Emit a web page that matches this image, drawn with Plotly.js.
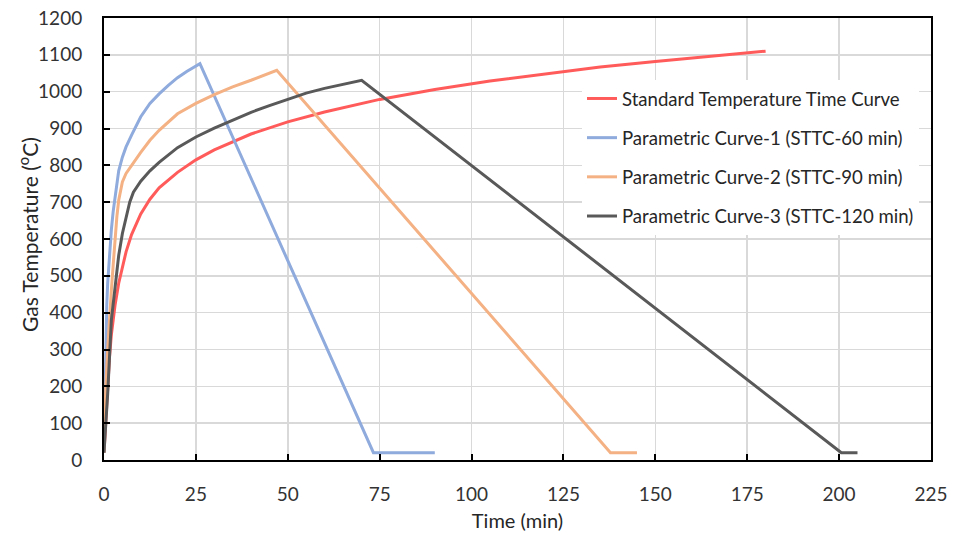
<!DOCTYPE html>
<html>
<head>
<meta charset="utf-8">
<script src="https://cdn.plot.ly/plotly-3.0.1.min.js"></script>
<style>html,body{margin:0;padding:0;background:#fff;}#chart{width:961px;height:535px;}</style>
</head>
<body>
<div id="chart"></div>
<script>
// Standard Temperature Time Curve
const timeStd = [0, 0.5, 1, 1.5, 2, 3, 4, 5, 6, 7.5, 10, 12.5, 15, 20, 25, 30, 40, 50, 60, 75, 90, 105, 120, 135, 150, 165, 180];
const tempStd = [20, 120, 210, 280, 340, 420, 480, 525, 565, 612, 668, 708, 739, 781, 815, 842, 885, 918, 945, 979, 1006, 1029, 1049, 1067, 1082, 1097, 1110];
// Parametric Curve-1 (STTC-60 min)
const time1 = [0, 0.25, 0.5, 0.75, 1, 1.5, 2, 2.5, 3, 4, 5, 6, 7.5, 10, 12.5, 15, 17.5, 20, 22.5, 26.1, 73.3, 90];
const temp1 = [20, 200, 330, 420, 480, 560, 625, 675, 715, 785, 822, 850, 882, 932, 968, 994, 1017, 1038, 1055, 1076, 20, 20];
// Parametric Curve-2 (STTC-90 min)
const time2 = [0, 0.5, 1, 1.5, 2, 2.5, 3, 3.5, 4, 4.5, 5, 6, 7.5, 10, 12.5, 15, 20, 25, 30, 35, 40, 47, 137.8, 145];
const temp2 = [20, 200, 300, 390, 460, 530, 600, 660, 705, 735, 755, 778, 800, 835, 868, 895, 940, 968, 992, 1013, 1031, 1058, 20, 20];
// Parametric Curve-3 (STTC-120 min)
const time3 = [0, 1, 2, 3, 4, 5, 6, 7, 8, 10, 12.5, 15, 20, 25, 30, 35, 40, 45, 50, 55, 60, 65, 70.1, 200.6, 205];
const temp3 = [20, 180, 380, 475, 555, 615, 660, 700, 727, 757, 785, 808, 848, 877, 901, 923, 944, 962, 980, 996, 1009, 1020, 1031, 20, 20];

const seriesNames = ["Standard Temperature Time Curve", "Parametric Curve-1 (STTC-60 min)", "Parametric Curve-2 (STTC-90 min)", "Parametric Curve-3 (STTC-120 min)"];
const xTicks = [0, 25, 50, 75, 100, 125, 150, 175, 200, 225];
const yTicks = [0, 100, 200, 300, 400, 500, 600, 700, 800, 900, 1000, 1100, 1200];

const colors = ["#FF5B5B", "#8FAADC", "#F4B183", "#595959"];
const xs = [timeStd, time1, time2, time3];
const ys = [tempStd, temp1, temp2, temp3];

const FONT = "Lato, 'Open Sans', sans-serif";
const traces = xs.map((x, i) => ({
  x: x, y: ys[i], type: "scatter", mode: "lines", name: seriesNames[i],
  legendgroup: "g" + i,
  line: {color: colors[i], width: 3}
}));

const axisCommon = {
  showline: true, linecolor: "#000", linewidth: 2, mirror: true,
  showgrid: true, gridcolor: "#D9D9D9", gridwidth: 1.5,
  zeroline: false, ticks: "inside", ticklen: 6, tickwidth: 2, tickcolor: "#000",
  tickfont: {family: FONT, size: 19, color: "#333"}, ticklabelstandoff: 16
};

const layout = {
  width: 961, height: 535,
  margin: {l: 104, r: 30, t: 18, b: 75},
  paper_bgcolor: "#fff", plot_bgcolor: "#fff",
  font: {family: FONT, color: "#262626"},
  xaxis: Object.assign({}, axisCommon, {
    range: [0, 225], tickvals: xTicks, ticktext: xTicks.map(String),
    title: {text: "Time (min)", font: {family: FONT, size: 20, color: "#262626"}, standoff: 10}
  }),
  yaxis: Object.assign({}, axisCommon, {
    range: [0, 1200], tickvals: yTicks, ticktext: yTicks.map(String)
  }),
  annotations: [{
    text: "Gas Temperature (<sup>o</sup>C)", textangle: -90,
    xref: "paper", yref: "paper", x: -0.0925, y: 0.51,
    xanchor: "center", yanchor: "middle", showarrow: false,
    font: {family: FONT, size: 21, color: "#262626"}
  }],
  showlegend: true,
  legend: {
    x: 0.578, y: 0.86, xanchor: "left", yanchor: "top",
    bgcolor: "#fff", borderwidth: 0,
    font: {family: FONT, size: 18.6, color: "#262626"},
    traceorder: "grouped", tracegroupgap: 12
  }
};

Plotly.newPlot("chart", traces, layout, {displayModeBar: false, staticPlot: true});
</script>
</body>
</html>
